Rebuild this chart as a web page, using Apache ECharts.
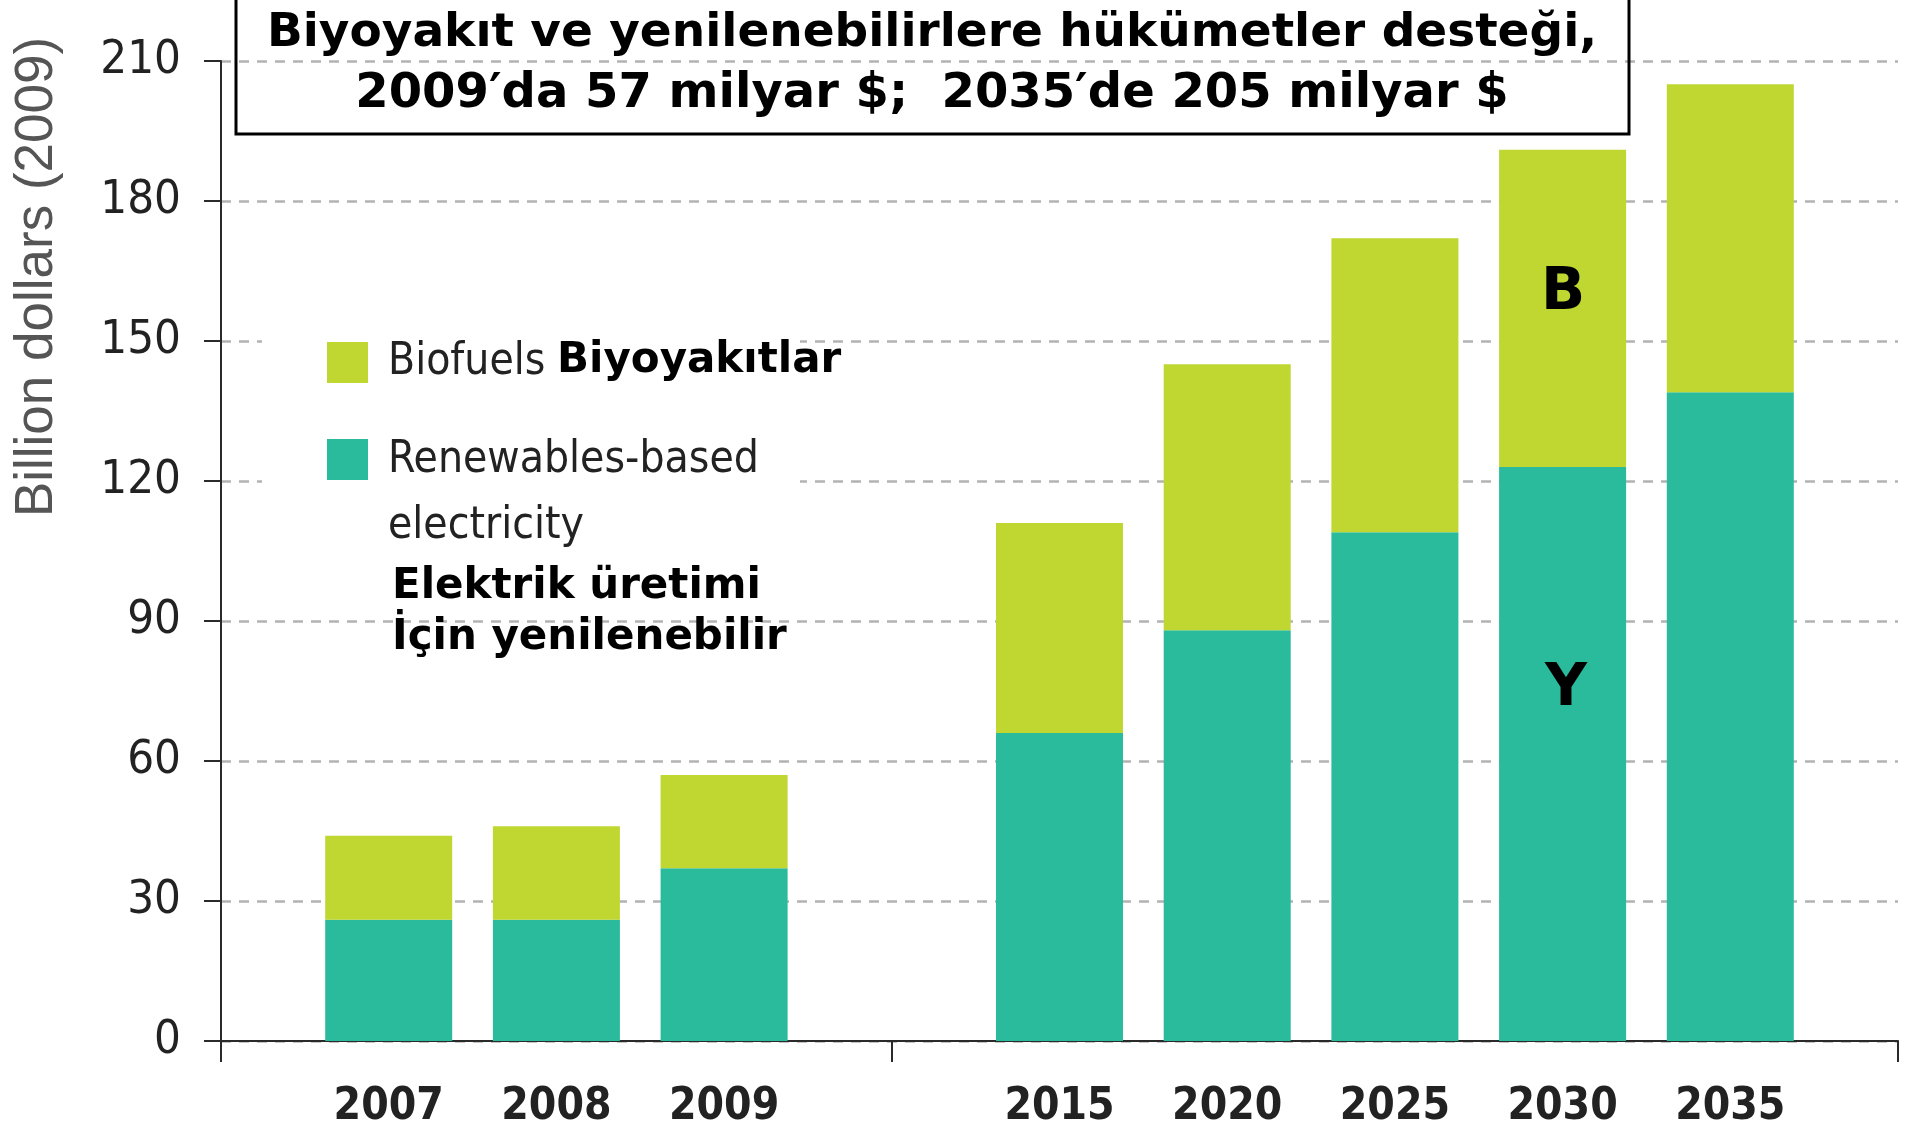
<!DOCTYPE html>
<html>
<head>
<meta charset="utf-8">
<title>Biyoyakıt ve yenilenebilirlere hükümetler desteği</title>
<script src="https://cdn.jsdelivr.net/npm/echarts@6/dist/echarts.min.js"></script>
<style>
  html, body { margin: 0; padding: 0; background: #fff; }
  #chart { width: 1913px; height: 1136px; }
</style>
</head>
<body>
<div id="chart"></div>
<script>
// categories: empty slots give the axis its outer margins and the break between history and outlook
const years = ["", "2007", "2008", "2009", "", "2015", "2020", "2025", "2030", "2035", ""];
// billion dollars (2009)
const renewables = [null, 26, 26, 37, null, 66, 88, 109, 123, 139, null];
const biofuels = [null, 18, 20, 20, null, 45, 57, 63, 68, 66, null];
const yTicks = { min: 0, max: 210, step: 30 };

const titleLines = ["Biyoyakıt ve yenilenebilirlere hükümetler desteği,", "2009′da 57 milyar $;  2035′de 205 milyar $"];
const axisName = "Billion dollars (2009)";

const C_BIO = "#BFD730", C_REN = "#29BB9C";
const NARROW = '"Liberation Sans Narrow", "DejaVu Sans Condensed", "Arial Narrow", sans-serif';
const BOLD = '"DejaVu Sans", Verdana, sans-serif';

const chart = echarts.init(document.getElementById("chart"), null, { renderer: "canvas" });

const txt = (x, y, text, size, opts) => Object.assign({
  type: "text", x, y, z: 10,
  style: Object.assign({ text, fontSize: size, fontFamily: BOLD, fontWeight: "bold", fill: "#000",
    verticalAlign: "middle", align: "left" }, opts || {}),
});
const legendTxt = (x, y, text) => txt(x, y, text, 44, { fontFamily: NARROW, fontWeight: "normal", fill: "#222" });

chart.setOption({
  animation: false,
  grid: { left: 221, right: 15, top: 61, bottom: 95, outerBoundsMode: "none", containLabel: false },
  xAxis: {
    type: "category", data: years, boundaryGap: false,
    axisLine: { lineStyle: { color: "#2a2a2a", width: 2 } },
    axisTick: { show: true, length: 21, interval: (i) => i === 0 || i === 4 || i === 10, lineStyle: { color: "#2a2a2a", width: 2 } },
    axisLabel: { interval: 0, margin: 45, color: "#222", fontSize: 44, fontWeight: "bold", fontFamily: NARROW },
    splitLine: { show: false },
  },
  yAxis: {
    type: "value", min: yTicks.min, max: yTicks.max, interval: yTicks.step,
    axisLine: { show: true, lineStyle: { color: "#2a2a2a", width: 2 } },
    axisTick: { show: true, length: 17, lineStyle: { color: "#2a2a2a", width: 2 } },
    axisLabel: { margin: 40, color: "#222", fontSize: 47, fontFamily: NARROW },
    splitLine: { lineStyle: { color: "#b3b3b3", width: 2.5, type: [10, 8] } },
  },
  series: [
    { name: "Renewables-based electricity", type: "bar", stack: "s", data: renewables, barWidth: 127, itemStyle: { color: C_REN } },
    { name: "Biofuels", type: "bar", stack: "s", data: biofuels, barWidth: 127, itemStyle: { color: C_BIO } },
  ],
  graphic: [
    // axis title sits in the upper half, not centred on the axis
    { type: "text", x: 37, y: 277, rotation: Math.PI / 2, z: 10,
      style: { text: axisName, fontSize: 53, fontFamily: '"Liberation Sans", Arial, sans-serif', fill: "#555",
        align: "center", verticalAlign: "middle" } },
    // title box, no fill: the 210 gridline shows through
    { type: "rect", z: 5, shape: { x: 236, y: -4, width: 1393, height: 138 }, style: { fill: null, stroke: "#000", lineWidth: 3 } },
    txt(932, 34, titleLines[0], 47, { align: "center" }),
    txt(932, 95, titleLines[1], 48, { align: "center" }),
    // legend panel
    { type: "rect", z: 1, shape: { x: 262, y: 318, width: 538, height: 238 }, style: { fill: "#fff" } },
    { type: "rect", z: 5, shape: { x: 327, y: 342, width: 41, height: 41 }, style: { fill: C_BIO } },
    { type: "rect", z: 5, shape: { x: 327, y: 439, width: 41, height: 41 }, style: { fill: C_REN } },
    legendTxt(388, 363, "Biofuels"),
    txt(557, 361, "Biyoyakıtlar", 42),
    legendTxt(388, 461, "Renewables-based"),
    legendTxt(388, 527, "electricity"),
    txt(392, 587, "Elektrik üretimi", 42),
    txt(392, 638, "İçin yenilenebilir", 42),
    // series initials inside the 2030 bar
    txt(1563, 294, "B", 58, { align: "center" }),
    txt(1566, 690, "Y", 58, { align: "center" }),
  ],
});
</script>
</body>
</html>
